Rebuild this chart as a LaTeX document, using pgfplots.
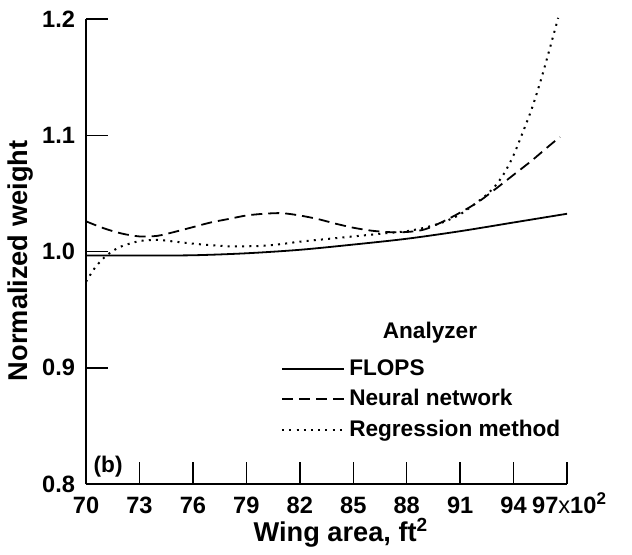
\documentclass[border=0pt]{standalone}
\usepackage{pgfplots}
\pgfplotsset{compat=1.18}
\usepackage{fontspec}
\setmainfont{Liberation Sans}

% normalized weight vs wing area, three analyzers
\begin{document}
\begin{tikzpicture}
\begin{axis}[scale only axis,width=240.5pt,height=232.5pt,
	xmin=70,xmax=97,ymin=0.8,ymax=1.2,clip=false,
	axis lines=left,axis line style={-,line width=0.8pt},
	tick align=inside,major tick length=11pt,
	tick style={line width=0.7pt,black},
	xtick={70,73,...,97},
	xticklabels={70,73,76,79,82,85,88,91,94,{\hspace{2pt}97{\mdseries x}10\smash{\raisebox{0.75ex}{\fontsize{8.5}{9}\selectfont 2}}}},
	ytick={0.8,0.9,1.0,1.1,1.2},
	yticklabels={0.8,0.9,1.0,1.1,1.2},
	/pgf/number format/assume math mode=true,
	ticklabel style={font=\fontsize{11.8}{14}\selectfont\bfseries},
	xticklabel style={yshift=-3pt},
	yticklabel style={xshift=-2pt},
	xlabel={Wing area, ft\textsuperscript{2}},
	ylabel={Normalized weight},
	label style={font=\fontsize{13.6}{16}\selectfont\bfseries},
	xlabel style={at={(axis description cs:0.53,-0.105)},anchor=center},
	ylabel style={at={(axis description cs:-0.137,0.48)},anchor=center},
	legend cell align=left,
	legend style={at={(axis description cs:0.405,0.277)},anchor=north west,
		draw=none,fill=none,inner sep=0pt,row sep=1.5pt,
		font=\fontsize{11.3}{13}\selectfont\bfseries},
	legend image code/.code={\draw[#1] (0pt,0pt) -- (24.5pt,0pt);
		\path (0pt,0pt) -- (31pt,0pt);},
]
\addplot[black,line width=0.9pt,smooth] coordinates {
	(70,0.9966) (73,0.9966) (76,0.9968) (79,0.9985) (82,1.0015) (85,1.0060)
	(88,1.0110) (91,1.0175) (94,1.0250) (97,1.0325)};
\addlegendentry{FLOPS}
\addplot[black,line width=0.9pt,dash pattern=on 5.5pt off 3pt,smooth] coordinates {
	(70,1.026) (71,1.020) (72,1.0155) (73,1.013) (74,1.0135) (75,1.017) (76,1.021)
	(77,1.025) (78,1.028) (79,1.031) (80,1.0325) (81,1.033) (82,1.031) (83,1.028)
	(84,1.024) (85,1.0205) (86,1.018) (87,1.0167) (88,1.0168) (89,1.0190) (90,1.0255)
	(91,1.0335) (92,1.0425) (93,1.054) (94,1.066) (95,1.078) (96,1.091) (96.6,1.0985)};
\addlegendentry{Neural network}
\addplot[black,line width=1pt,dash pattern=on 1pt off 2.6pt,smooth] coordinates {
	(70,0.974) (70.5,0.986) (71,0.9945) (71.5,1.0005) (72,1.0045) (73,1.009) (74,1.010)
	(75,1.0085) (76,1.0068) (77,1.0055) (78,1.0045) (79,1.0045) (80,1.005) (81,1.0065)
	(82,1.0085) (83,1.010) (84,1.0115) (85,1.013) (86,1.0145) (87,1.016) (88,1.0175)
	(89,1.0205) (90,1.025) (91,1.032) (92,1.043) (92.5,1.049) (93,1.057) (93.5,1.068)
	(94,1.083) (94.5,1.102) (95,1.122) (95.5,1.146) (96,1.173) (96.5,1.201)};
\addlegendentry{Regression method}
\node[font=\fontsize{11.3}{13}\selectfont\bfseries] at (axis description cs:0.715,0.325) {Analyzer};
\node[font=\fontsize{11.3}{13}\selectfont\bfseries] at (axis description cs:0.046,0.037) {(b)};
\path (axis description cs:-0.1788,-0.1462) rectangle (axis description cs:1.135,1.0409);
\end{axis}
\end{tikzpicture}
\end{document}
